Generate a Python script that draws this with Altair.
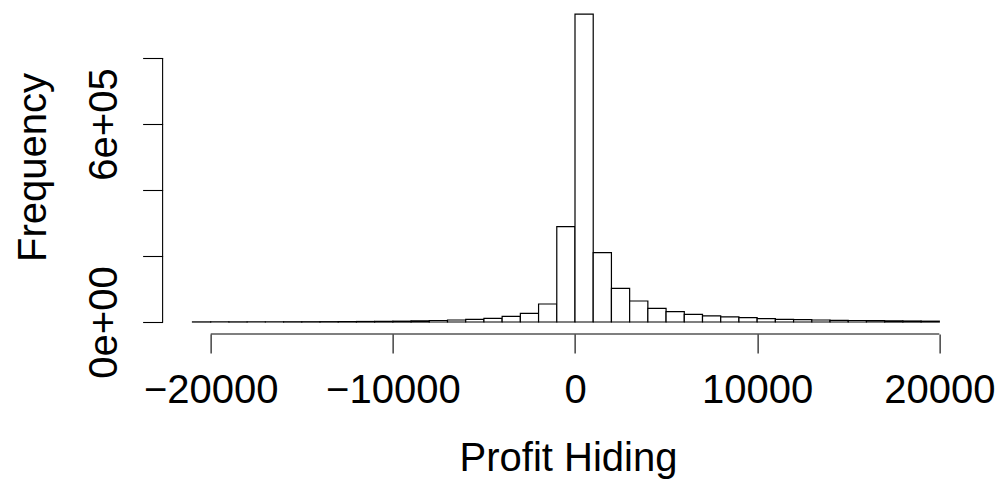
import altair as alt
import pandas as pd

# Histogram of profit hiding, 1000-wide bins from -21000 to 20000
bin_starts = list(range(-21000, 20000, 1000))
counts_neg = [
    300, 350, 400, 500, 600, 700, 800, 1000, 1300, 1600, 2000,  # -21000 .. -11000
    2500, 3500, 4500, 6000, 8000, 11000, 17000, 26400,          # -10000 .. -3000
    54500, 288800,                                              # -2000, -1000
]
counts_pos = [
    933000, 210000, 102000, 63600, 41400, 31300, 23200, 18500,  # 0 .. 7000
    15500, 13000, 10000, 8000, 7000, 6000, 5000, 4500,          # 8000 .. 15000
    4000, 3500, 3000, 2500,                                     # 16000 .. 19000
]
counts = counts_neg + counts_pos
x_ticks = [-20000, -10000, 0, 10000, 20000]
y_ticks = [0, 200000, 400000, 600000, 800000]

df = pd.DataFrame({
    "start": bin_starts,
    "end": [b + 1000 for b in bin_starts],
    "count": counts,
    "zero": [0] * len(bin_starts),
})

FONT = "Liberation Sans"
K = 0.018215                      # pixels per unit on x
XMIN, XMAX = -22640, 21640        # R-style 4% range extension
W = (XMAX - XMIN) * K
YPX = 66 / 200000                 # pixels per count on y
YMIN, YMAX = -12 / YPX, 320 / YPX
H = 332
LEFT = 575 - (0 - XMIN) * K

xscale = alt.Scale(domain=[XMIN, XMAX], nice=False, zero=False)
yscale = alt.Scale(domain=[YMIN, YMAX], nice=False, zero=False)

bars = alt.Chart(df).mark_bar(
    fill="white", stroke="black", strokeWidth=1.2
).encode(
    x=alt.X("start:Q", scale=xscale, title="Profit Hiding",
            axis=alt.Axis(values=x_ticks, format="d", domain=False, grid=False,
                          tickSize=19, tickColor="black", tickWidth=1.1,
                          labelFont=FONT, labelFontSize=40, labelColor="black",
                          labelPadding=17, labelFlush=False, labelOverlap=False,
                          titleFont=FONT, titleFontSize=40, titleFontWeight="normal",
                          titleColor="black", titleX=568 - LEFT, titleY=136,
                          titleAnchor="start", titleAlign="center",
                          titleBaseline="alphabetic")),
    x2="end:Q",
    y=alt.Y("count:Q", scale=yscale, title="Frequency",
            axis=alt.Axis(values=y_ticks, domain=False, grid=False,
                          labelExpr="datum.value == 0 ? '0e+00' : (datum.value == 600000 ? '6e+05' : '')",
                          tickSize=20, tickColor="black", tickWidth=1.1,
                          labelAngle=-90, labelAlign="center", labelBaseline="alphabetic",
                          labelFont=FONT, labelFontSize=40, labelColor="black",
                          labelPadding=26, labelFlush=False, labelOverlap=False,
                          titleFont=FONT, titleFontSize=40, titleFontWeight="normal",
                          titleColor="black", titleAngle=-90, titleX=45 - LEFT,
                          titleY=165, titleAnchor="start", titleAlign="center",
                          titleBaseline="alphabetic")),
    y2="zero:Q",
)

# axis lines spanning only the tick range, as base R draws them
xline = alt.Chart(pd.DataFrame({"a": [x_ticks[0]], "b": [x_ticks[-1]]})).mark_rule(
    color="black", strokeWidth=1.1
).encode(x=alt.X("a:Q", scale=xscale), x2="b:Q", y=alt.value(H))

yline = alt.Chart(pd.DataFrame({"a": [y_ticks[0]], "b": [y_ticks[-1]]})).mark_rule(
    color="black", strokeWidth=1.1
).encode(y=alt.Y("a:Q", scale=yscale), y2="b:Q", x=alt.value(0))

chart = alt.layer(bars, xline, yline).properties(
    width=W, height=H,
    autosize=alt.AutoSizeParams(type="none"),
    padding={"left": LEFT, "top": 2, "right": 1004 - LEFT - W, "bottom": 488 - 2 - H},
    background="white",
).configure_view(stroke=None)

chart.save("out.html", embed_options={"renderer": "svg", "actions": False})
